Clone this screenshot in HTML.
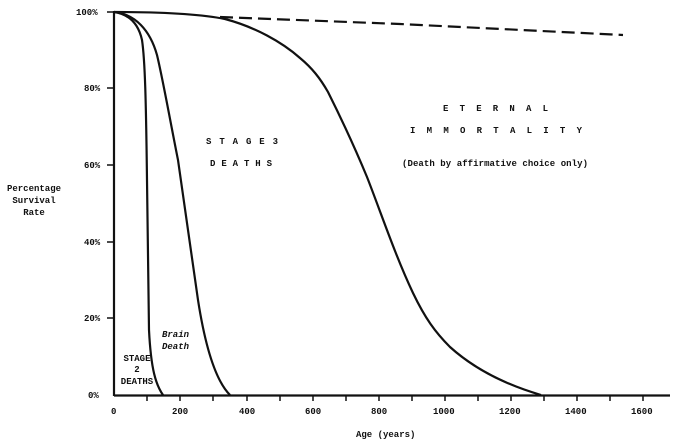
<!DOCTYPE html>
<html><head><style>
html,body{margin:0;padding:0;background:#fff;}
svg{display:block;}
text{font-family:"Liberation Mono",monospace;font-weight:bold;fill:#111;}
</style></head><body>
<svg width="678" height="444" viewBox="0 0 678 444" xmlns="http://www.w3.org/2000/svg">
<g stroke="#111" fill="none" stroke-width="2.2" stroke-linejoin="round">
<line x1="114" y1="11" x2="114" y2="396"/>
<line x1="114" y1="395.5" x2="670" y2="395.5"/>
<g stroke-width="1.5">
<line x1="107" y1="12" x2="114" y2="12"/>
<line x1="107" y1="88" x2="114" y2="88"/>
<line x1="107" y1="165" x2="114" y2="165"/>
<line x1="107" y1="242" x2="114" y2="242"/>
<line x1="107" y1="318" x2="114" y2="318"/>
<line x1="147" y1="395" x2="147" y2="401"/>
<line x1="180" y1="395" x2="180" y2="401"/>
<line x1="213" y1="395" x2="213" y2="401"/>
<line x1="247" y1="395" x2="247" y2="401"/>
<line x1="280" y1="395" x2="280" y2="401"/>
<line x1="313" y1="395" x2="313" y2="401"/>
<line x1="346" y1="395" x2="346" y2="401"/>
<line x1="379" y1="395" x2="379" y2="401"/>
<line x1="412" y1="395" x2="412" y2="401"/>
<line x1="445" y1="395" x2="445" y2="401"/>
<line x1="478" y1="395" x2="478" y2="401"/>
<line x1="511" y1="395" x2="511" y2="401"/>
<line x1="544" y1="395" x2="544" y2="401"/>
<line x1="577" y1="395" x2="577" y2="401"/>
<line x1="610" y1="395" x2="610" y2="401"/>
<line x1="643" y1="395" x2="643" y2="401"/>
</g>
<path d="M114,12 C128,14 138,22 142,40 C145,60 146,100 147,180 L149,330 C151,370 156,385 163,395"/>
<path d="M114,12 C135,14 150,30 157,55 C163,80 170,120 178,160 L198,300 C205,345 215,380 230,395"/>
<path d="M114,12 C160,12 200,14 225,19 C255,27 282,42 300,58 C312,68 320,78 328,92 C340,116 355,148 367,177 C380,210 395,255 413,293 C425,318 435,332 450,347 C470,365 500,383 541,395"/>
<path d="M220,17 L400,24 L623,35" stroke-dasharray="13,6"/>
</g>
<g font-size="9">
<text x="76" y="15">100%</text>
<text x="84" y="91">80%</text>
<text x="84" y="168">60%</text>
<text x="84" y="245">40%</text>
<text x="84" y="321">20%</text>
<text x="88" y="398">0%</text>
<text x="111" y="414">0</text>
<text x="172" y="414">200</text>
<text x="239" y="414">400</text>
<text x="305" y="414">600</text>
<text x="371" y="414">800</text>
<text x="433" y="414">1000</text>
<text x="499" y="414">1200</text>
<text x="565" y="414">1400</text>
<text x="631" y="414">1600</text>
<text x="356" y="437">Age  (years)</text>
<text x="34" y="191" text-anchor="middle">Percentage</text>
<text x="34" y="203" text-anchor="middle">Survival</text>
<text x="34" y="215" text-anchor="middle">Rate</text>
<text x="206" y="144" textLength="72" lengthAdjust="spacing">S T A G E  3</text>
<text x="210" y="166" textLength="62" lengthAdjust="spacing">D E A T H S</text>
<text x="443" y="111" textLength="105" lengthAdjust="spacing">E T E R N A L</text>
<text x="410" y="133" textLength="172" lengthAdjust="spacing">I M M O R T A L I T Y</text>
<text x="402" y="166" font-weight="normal" textLength="186" lengthAdjust="spacing">(Death by affirmative choice only)</text>
<text x="162" y="337" font-style="italic" font-weight="normal">Brain</text>
<text x="162" y="349" font-style="italic" font-weight="normal">Death</text>
<text x="137" y="361" text-anchor="middle" font-family="Liberation Sans" font-weight="normal">STAGE</text>
<text x="137" y="372" text-anchor="middle" font-family="Liberation Sans" font-weight="normal">2</text>
<text x="137" y="384" text-anchor="middle" font-family="Liberation Sans" font-weight="normal">DEATHS</text>
</g>
</svg>
</body></html>
